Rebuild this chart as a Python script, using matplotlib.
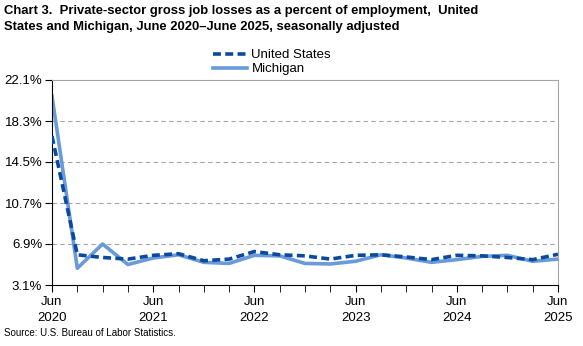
import numpy as np
import matplotlib
matplotlib.use('Agg')
from matplotlib import pyplot as plt
from matplotlib.ticker import MultipleLocator

plt.rcParams['font.family'] = ['Liberation Sans', 'DejaVu Sans']

# quarterly, June 2020 - June 2025
us = [16.9, 5.9, 5.65, 5.5, 5.85, 6.0, 5.35, 5.5, 6.2, 5.9, 5.8,
      5.5, 5.85, 5.9, 5.7, 5.45, 5.85, 5.8, 5.65, 5.45, 5.95]
mi = [20.6, 4.65, 6.9, 5.0, 5.6, 5.9, 5.2, 5.1, 5.85, 5.8, 5.1,
      5.05, 5.3, 5.9, 5.6, 5.2, 5.45, 5.75, 5.85, 5.3, 5.5]
yticks = [3.1, 6.9, 10.7, 14.5, 18.3, 22.1]
xlabels = ['Jun\n2020', 'Jun\n2021', 'Jun\n2022', 'Jun\n2023', 'Jun\n2024', 'Jun\n2025']

x = np.arange(len(us))

fig = plt.figure(figsize=(5.83, 3.46), dpi=100)
ax = fig.add_axes([52/583, 1-285/346, 506/583, 205/346])

ax.plot(x, us, color='#0a4a9e', lw=2.6, ls=(0, (2.2, 1.2)), label='United States', zorder=3)
ax.plot(x, mi, color='#6a9ad9', lw=2.6, label='Michigan', zorder=2)

ax.set_xlim(0, 20)
ax.set_ylim(3.1, 22.1)
ax.set_yticks(yticks)
ax.set_yticklabels(['%.1f%%' % v for v in yticks], fontsize=9.5)
ax.set_xticks(np.arange(0, 21, 4))
ax.set_xticklabels(xlabels, fontsize=9.5, linespacing=1.4)
ax.xaxis.set_minor_locator(MultipleLocator(1))
ax.tick_params(axis='x', which='both', direction='out', length=5, color='black', pad=3)
ax.tick_params(axis='y', direction='out', length=5, color='black', pad=2)

for v in yticks[1:-1]:
    ax.axhline(v, color='#a6a6a6', lw=0.8, ls=(0, (4, 3)), zorder=1)

ax.spines['left'].set_color('black')
ax.spines['bottom'].set_color('black')
ax.spines['top'].set_color('#a6a6a6')
ax.spines['right'].set_color('#a6a6a6')

fig.text(4/583, 1-5/346, 'Chart 3.  Private-sector gross job losses as a percent of employment,  United\n'
         'States and Michigan, June 2020\u2013June 2025, seasonally adjusted',
         fontsize=9.4, fontweight='bold', va='top', ha='left', linespacing=1.45)

ax.legend(loc='lower center', bbox_to_anchor=(0.435, 0.99), frameon=False, fontsize=9.5,
          handlelength=2.6, handletextpad=0.3, labelspacing=0.15, borderpad=0)

fig.text(4/583, 1-333/346, 'Source: U.S. Bureau of Labor Statistics.', fontsize=7, va='center', ha='left')

fig.savefig('out.png', dpi=100)
